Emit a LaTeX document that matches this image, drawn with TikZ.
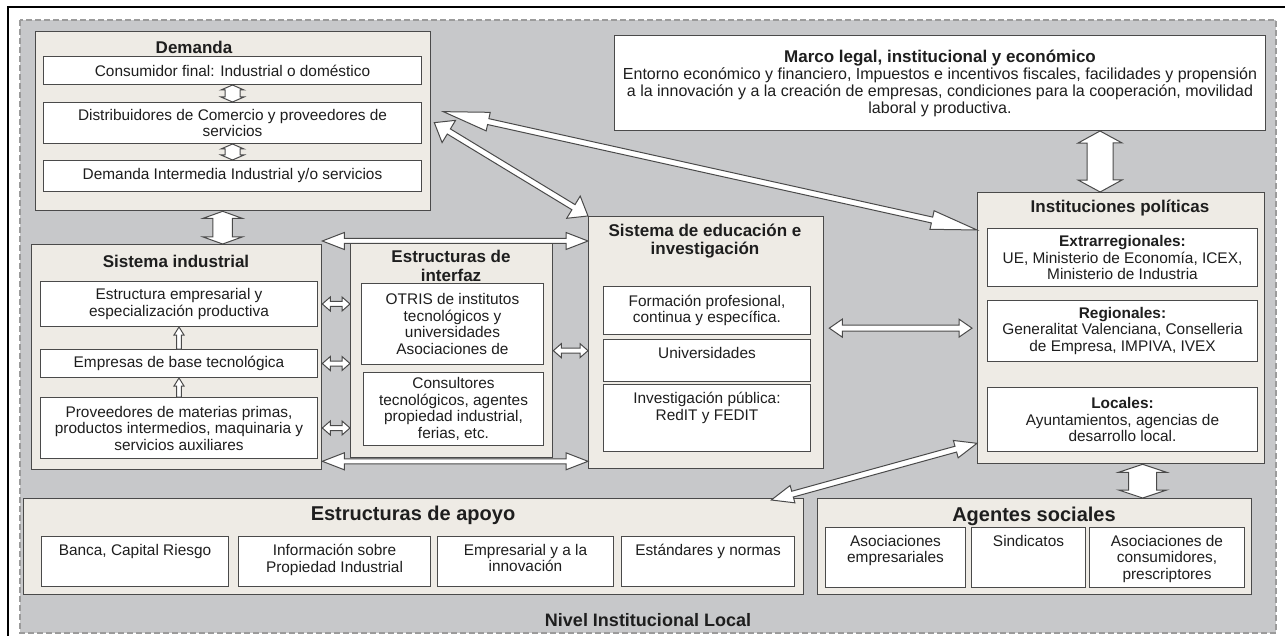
\documentclass[tikz,border=0pt]{standalone}
\usepackage{fontspec}
\setmainfont{Liberation Sans}
\usetikzlibrary{calc}

\definecolor{bgray}{HTML}{C7C8CA}
\definecolor{beige}{HTML}{EEEBE5}
\definecolor{edge}{HTML}{4A4A4A}
\definecolor{dashgray}{HTML}{9B9B9B}
\definecolor{ink}{HTML}{1E1E1E}

% hollow block arrows between two points: from, to, shaft half width, head half width, head length
\newcommand{\twoway}[5]{%
  \draw[blk] let \p1=(#1), \p2=(#2), \n1={atan2(\y2-\y1,\x2-\x1)}, \n2={veclen(\x2-\x1,\y2-\y1)} in
    [shift={(\p1)}, rotate=\n1]
    (0,0) -- (#5,#4) -- (#5,#3) -- ({\n2-#5},#3) -- ({\n2-#5},#4) -- (\n2,0)
    -- ({\n2-#5},-#4) -- ({\n2-#5},-#3) -- (#5,-#3) -- (#5,-#4) -- cycle;}
\newcommand{\oneway}[5]{%
  \draw[blk] let \p1=(#1), \p2=(#2), \n1={atan2(\y2-\y1,\x2-\x1)}, \n2={veclen(\x2-\x1,\y2-\y1)} in
    [shift={(\p1)}, rotate=\n1]
    (0,-#3) -- (0,#3) -- ({\n2-#5},#3) -- ({\n2-#5},#4) -- (\n2,0)
    -- ({\n2-#5},-#4) -- ({\n2-#5},-#3) -- cycle;}

\begin{document}
\begin{tikzpicture}[x=1pt, y=-1pt,
  grp/.style={draw=edge, fill=beige, line width=1.3pt, inner sep=0pt, anchor=north west},
  cell/.style={draw=edge, fill=white, line width=1pt, inner sep=0pt, anchor=north west,
    align=center, text=ink, font=\fontsize{15.4}{16.5}\selectfont},
  ttl/.style={font=\bfseries\fontsize{17}{18.5}\selectfont, text=ink, align=center, inner sep=0pt},
  big/.style={font=\bfseries\fontsize{20}{22}\selectfont, text=ink, inner sep=0pt},
  toptxt/.style={anchor=north, yshift=-8pt, inner sep=0pt, align=center, text=ink,
    font=\fontsize{15.4}{16.5}\selectfont},
  blk/.style={draw=edge, fill=white, line width=1pt, line join=miter}]

\useasboundingbox (0,0) rectangle (1285,636);

% ---------- Frame and local level ----------
\fill[white] (0,0) rectangle (1285,636);
\draw[line width=2pt] (8,636) -- (8,7) -- (1285,7);
\draw[dashgray, fill=bgray, line width=1.8pt, dash pattern=on 6pt off 3pt] (20,20) rectangle (1276,633);
\node[ttl, font=\bfseries\fontsize{18}{20}\selectfont] (lvl) at (648,620) {Nivel Institucional Local};

% ---------- Demanda ----------
\node[grp, minimum width=395, minimum height=179] (dem) at (35,31) {};
\node[ttl] (demt) at (194,47) {Demanda};
\node[cell, minimum width=378, minimum height=28] (d1) at (43,56) {Consumidor final: Industrial o doméstico};
\node[cell, minimum width=378, minimum height=41] (d2) at (43,102) {Distribuidores de Comercio y proveedores de\\servicios};
\node[cell, minimum width=378, minimum height=31] (d3) at (43,160) {Demanda Intermedia Industrial y/o servicios};

% ---------- Marco legal ----------
\node[cell, minimum width=651, minimum height=95, font=\fontsize{16}{17}\selectfont] (mar) at (614,35)
  {{\bfseries\fontsize{17}{17}\selectfont Marco legal, institucional y económico}\\
   Entorno económico y financiero, Impuestos e incentivos fiscales, facilidades y propensión\\
   a la innovación y a la creación de empresas, condiciones para la cooperación, movilidad\\
   laboral y productiva.};

% ---------- Sistema industrial ----------
\node[grp, minimum width=290, minimum height=225] (ind) at (31,244) {};
\node[ttl] (indt) at (176,261) {Sistema industrial};
\node[cell, minimum width=277, minimum height=45] (i1) at (40,281) {Estructura empresarial y\\especialización productiva};
\node[cell, minimum width=277, minimum height=28] (i2) at (40,349) {Empresas de base tecnológica};
\node[cell, minimum width=277, minimum height=61] (i3) at (40,397) {Proveedores de materias primas,\\productos intermedios, maquinaria y\\servicios auxiliares};

% ---------- Estructuras de interfaz ----------
\node[grp, minimum width=202, minimum height=214] (itf) at (350,243) {};
\node[ttl] (itft) at (451,266) {Estructuras de\\interfaz};
\node[cell, minimum width=182, minimum height=81] (f1) at (361,283) {OTRIS de institutos\\tecnológicos y\\universidades\\Asociaciones de};
\node[cell, minimum width=180, minimum height=73] (f2) at (363,372) {Consultores\\tecnológicos, agentes\\propiedad industrial,\\ferias, etc.};

% ---------- Sistema de educacion ----------
\node[grp, minimum width=235, minimum height=252] (edu) at (588,216) {};
\node[ttl] (edut) at (705,241) {Sistema de educación e\\investigación};
\node[cell, minimum width=207, minimum height=48] (e1) at (603,286) {Formación profesional,\\continua y específica.};
\node[cell, minimum width=207, minimum height=42, label={[toptxt]north:Universidades}] (e2) at (603,339) {};
\node[cell, minimum width=207, minimum height=67, label={[toptxt]north:{Investigación pública:\\RedIT y FEDIT}}] (e3) at (603,384) {};

% ---------- Instituciones politicas ----------
\node[grp, minimum width=287, minimum height=271] (ins) at (977,192) {};
\node[ttl] (inst) at (1120,208) {Instituciones políticas};
\node[cell, minimum width=270, minimum height=58] (p1) at (987,228) {\textbf{Extrarregionales:}\\UE, Ministerio de Economía, ICEX,\\Ministerio de Industria};
\node[cell, minimum width=270, minimum height=61] (p2) at (987,300) {\textbf{Regionales:}\\Generalitat Valenciana, Conselleria\\de Empresa, IMPIVA, IVEX};
\node[cell, minimum width=270, minimum height=64] (p3) at (987,387) {\textbf{Locales:}\\Ayuntamientos, agencias de\\desarrollo local.};

% ---------- Estructuras de apoyo ----------
\node[grp, minimum width=780, minimum height=96] (apo) at (23,498) {};
\node[big] (apot) at (413,515) {Estructuras de apoyo};
\node[cell, minimum width=187, minimum height=50, label={[toptxt]north:{Banca, Capital Riesgo}}] (a1) at (41,536) {};
\node[cell, minimum width=192, minimum height=50, label={[toptxt]north:{Información sobre\\Propiedad Industrial}}] (a2) at (238,536) {};
\node[cell, minimum width=176, minimum height=50, label={[toptxt]north:{Empresarial y a la\\innovación}}] (a3) at (437,536) {};
\node[cell, minimum width=173, minimum height=50, label={[toptxt]north:{Estándares y normas}}] (a4) at (621,536) {};

% ---------- Agentes sociales ----------
\node[grp, minimum width=434, minimum height=96] (agt) at (817,498) {};
\node[big] (agtt) at (1034,516) {Agentes sociales};
\node[cell, minimum width=140, minimum height=60, label={[toptxt]north:{Asociaciones\\empresariales}}] (s1) at (825,527) {};
\node[cell, minimum width=114, minimum height=60, label={[toptxt]north:Sindicatos}] (s2) at (971,527) {};
\node[cell, minimum width=155, minimum height=60, label={[toptxt]north:{Asociaciones de\\consumidores,\\prescriptores}}] (s3) at (1089,527) {};

% ---------- Arrows ----------
\twoway{d1.south}{d2.north}{7.5}{11.5}{5}
\twoway{d2.south}{d3.north}{7.5}{11.5}{5}
\twoway{$(dem.south)+(-10.5,0)$}{$(ind.north)+(46,0)$}{9.7}{19.5}{7}

\oneway{i2.north}{i1.south}{2.3}{5}{8}
\oneway{i3.north}{i2.south}{2.3}{5}{8}

\twoway{ind.east |- i1}{itf.west |- i1}{2.5}{7}{8}
\twoway{ind.east |- i2}{itf.west |- i2}{2.5}{7}{8}
\twoway{ind.east |- i3}{itf.west |- i3}{2.5}{7}{8}
\twoway{itf.east}{edu.west |- itf.east}{2.5}{7}{8}

\coordinate (hi) at ([yshift=3pt]ind.north east);
\coordinate (lo) at ([yshift=9pt]ind.south east);
\twoway{hi}{edu.west |- hi}{2.5}{8.5}{22}
\twoway{lo}{edu.west |- lo}{2.5}{8.5}{22}

\twoway{$(edu.east |- ins.west)+(5,0)$}{$(ins.west)+(-5,0)$}{3}{9}{13}

\twoway{$(dem.east)+(3,1.5)$}{edu.north west}{3}{13}{17}
\twoway{$(dem.east)+(12,-9.5)$}{$(ins.north west)+(0,38)$}{3}{9.5}{46}
\twoway{$(apo.north east)+(-33,2)$}{$(ins.south west)+(0,-21)$}{3}{9}{22}

\twoway{$(mar.south)+(160,0)$}{$(ins.north)+(-21,0)$}{13}{22}{12}
\twoway{$(ins.south)+(21.5,0)$}{$(agt.north)+(108,0)$}{14}{24}{8}

\end{tikzpicture}
\end{document}
